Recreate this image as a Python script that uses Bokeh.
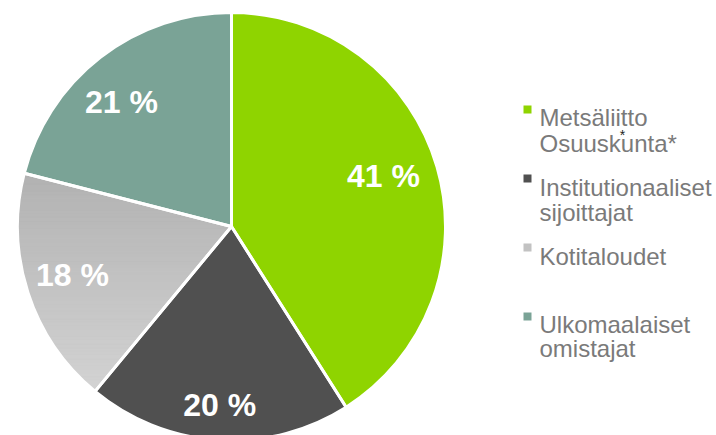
import numpy as np
from bokeh.plotting import figure
from bokeh.models import Range1d
from bokeh.core.properties import value
from bokeh.embed import file_html
from bokeh.resources import INLINE

# ---- data ----
categories = ["Metsäliitto Osuuskunta*", "Institutionaaliset sijoittajat",
              "Kotitaloudet", "Ulkomaalaiset omistajat"]
shares = [41, 20, 18, 21]
pct_labels = ["41 %", "20 %", "18 %", "21 %"]
legend_lines = [["Metsäliitto", "Osuuskunta*"],
                ["Institutionaaliset", "sijoittajat"],
                ["Kotitaloudet"],
                ["Ulkomaalaiset", "omistajat"]]
colors = ["#8fd400", "#505050", "#c2c2c2", "#7aa396"]
grad_top, grad_bottom = (0xb2, 0xb2, 0xb2), (0xd3, 0xd3, 0xd3)

# ---- layout / style ----
W, H = 716, 435
def py(y):  # screenshot pixel y -> data y
    return H - y
def px(x):
    return x

cx, cy, r = px(231), py(226), 214
label_rf = [0.749, 0.838, 0.778, 0.778]
label_shift_deg = [2.35, -0.2, -0.9, 3.55]

p = figure(width=W, height=H, x_range=Range1d(0, W), y_range=Range1d(0, H),
           output_backend="svg", toolbar_location=None, min_border=0,
           x_axis_type=None, y_axis_type=None)
p.grid.visible = False
p.outline_line_color = None
p.background_fill_color = "white"
p.border_fill_color = "white"

frac = np.array(shares, dtype=float) / sum(shares)
cum = np.concatenate([[0.0], np.cumsum(frac)])
start = np.pi / 2 - cum[:-1] * 2 * np.pi
end = np.pi / 2 - cum[1:] * 2 * np.pi

p.wedge(x=cx, y=cy, radius=r, start_angle=list(start), end_angle=list(end),
        direction="clock", fill_color=colors, line_color=None)

# gradient for "Kotitaloudet" slice
def clip_half(poly, y0, keep_above):
    out = []
    n = len(poly)
    for i in range(n):
        a, b = poly[i], poly[(i + 1) % n]
        ina = (a[1] >= y0) if keep_above else (a[1] <= y0)
        inb = (b[1] >= y0) if keep_above else (b[1] <= y0)
        if ina:
            out.append(a)
        if ina != inb:
            t = (y0 - a[1]) / (b[1] - a[1])
            out.append((a[0] + t * (b[0] - a[0]), y0))
    return out

gi = 2
angs = np.linspace(start[gi], end[gi], 120)
poly = [(cx, cy)] + [(cx + r * np.cos(a), cy + r * np.sin(a)) for a in angs]
ys_all = [pt[1] for pt in poly]
ymin, ymax = min(ys_all), max(ys_all)
nb = 60
edges = np.linspace(ymin, ymax, nb + 1)
bxs, bys, bcols = [], [], []
for k in range(nb):
    lo, hi = edges[k], edges[k + 1]
    piece = clip_half(clip_half(poly, lo, True), hi, False)
    if len(piece) < 3:
        continue
    t = 1 - ((lo + hi) / 2 - ymin) / (ymax - ymin)  # 0 at top, 1 at bottom
    c = tuple(int(round(grad_top[j] + t * (grad_bottom[j] - grad_top[j]))) for j in range(3))
    col = "#%02x%02x%02x" % c
    bxs.append([q[0] for q in piece])
    bys.append([q[1] for q in piece])
    bcols.append(col)
p.patches(xs=bxs, ys=bys, fill_color=bcols, line_color=bcols, line_width=0.8)

# white separators
p.wedge(x=cx, y=cy, radius=r, start_angle=list(start), end_angle=list(end),
        direction="clock", fill_color=None, line_color="white", line_width=3)

# percentage labels
mid = (start + end) / 2 + np.radians(label_shift_deg)
lx = [cx + r * f * np.cos(a) for f, a in zip(label_rf, mid)]
ly = [cy + r * f * np.sin(a) for f, a in zip(label_rf, mid)]
p.text(x=lx, y=ly, text=pct_labels, text_color="white",
       text_font=value("Liberation Sans"), text_font_style="bold",
       text_font_size="32px", text_align="center", text_baseline="middle")

# legend
sq_y = [109, 178, 247, 316]
line_base = [[117, 143], [187, 212], [256], [324, 348]]
p.scatter(x=[px(527)] * 4, y=[py(v) for v in sq_y], marker="square", size=8,
          fill_color=colors, line_color=None)
tx, ty, tt = [], [], []
for lines, bases in zip(legend_lines, line_base):
    for s, b in zip(lines, bases):
        tx.append(px(539)); ty.append(py(b)); tt.append(s)
p.text(x=tx, y=ty, text=tt, text_color="#7a7a7a",
       text_font=value("Liberation Sans"), text_font_size="24px",
       text_align="left", text_baseline="alphabetic")
p.text(x=[px(622)], y=[py(134)], text=["*"], text_color="#222222",
       text_font=value("Liberation Sans"), text_font_size="14px",
       text_align="center", text_baseline="alphabetic")

open("out.html", "w").write(file_html(p, INLINE))
